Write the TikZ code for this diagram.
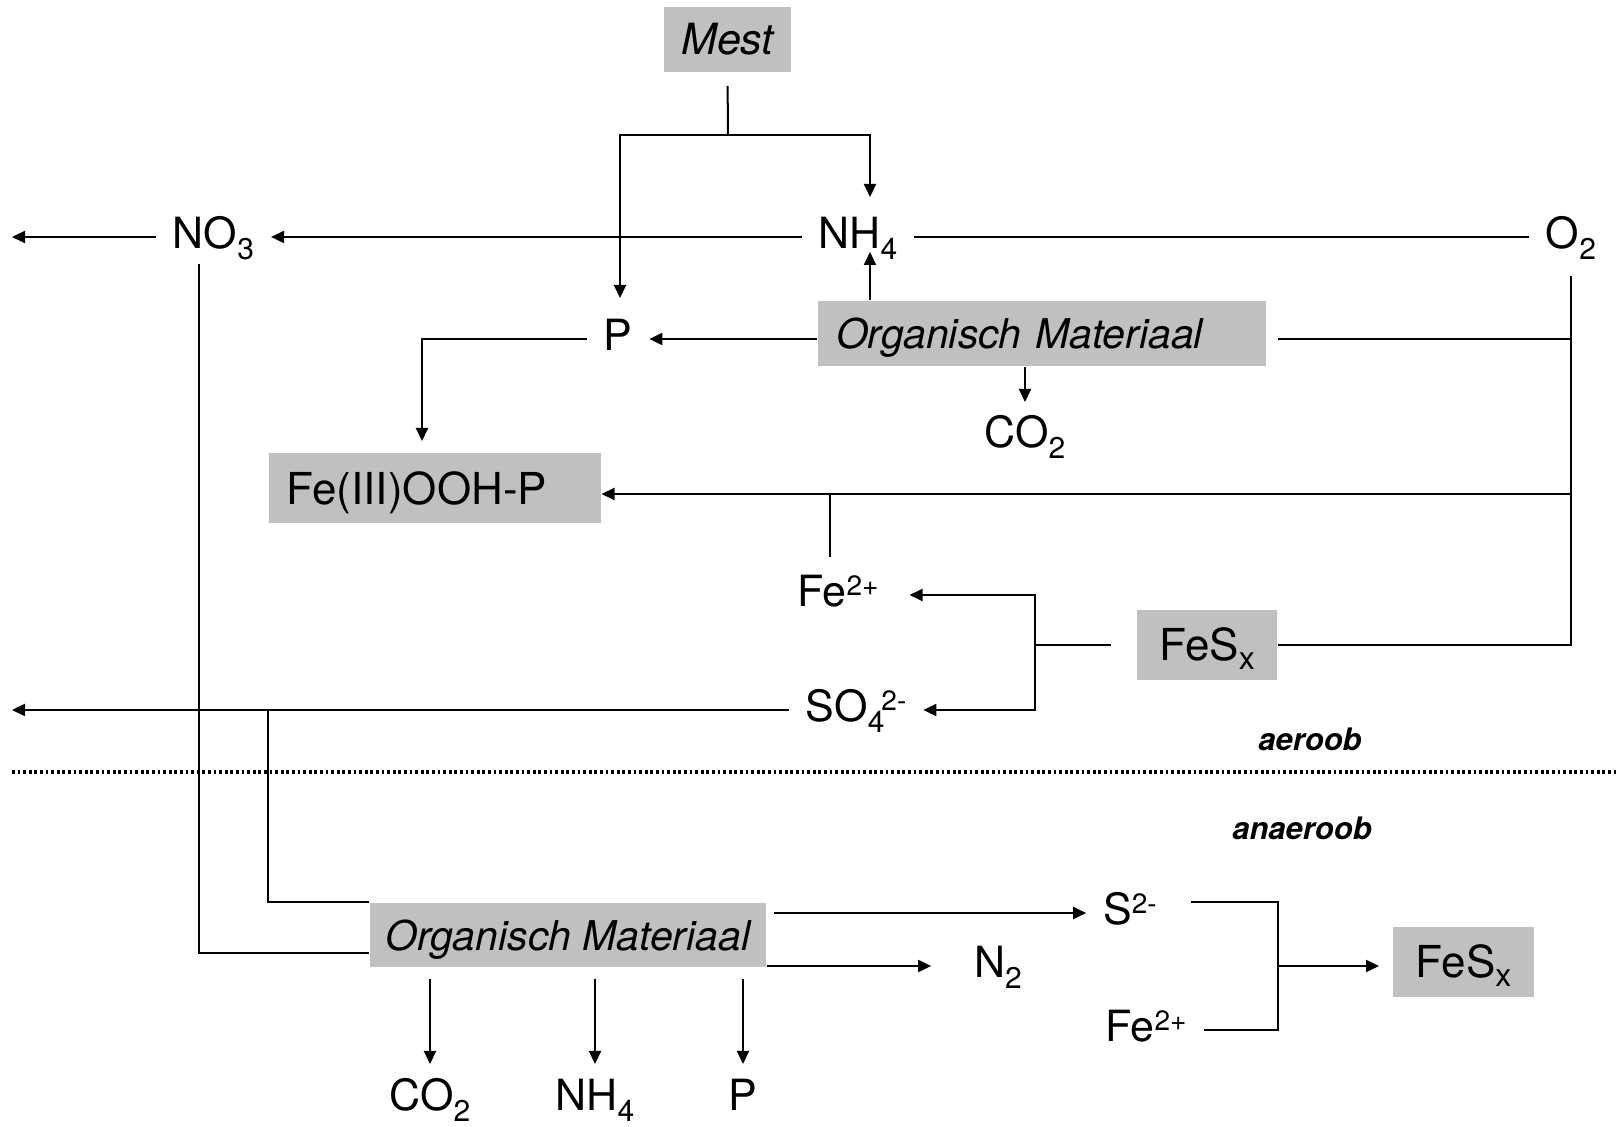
\documentclass[tikz,border=0pt]{standalone}
\usepackage{fontspec}
\setmainfont{TeX Gyre Heros}
\usetikzlibrary{arrows.meta,calc}
\definecolor{boxgray}{RGB}{192,192,192}
\newcommand{\sbs}[1]{\raisebox{-5.5pt}{\fontsize{15}{15}\selectfont #1}}
\newcommand{\sps}[1]{\raisebox{5.5pt}{\fontsize{14}{14}\selectfont #1}}
\newcommand{\xsb}[1]{\raisebox{-4.5pt}{\fontsize{16}{16}\selectfont #1}}
\tikzset{
  lbl/.style={inner xsep=8pt, inner ysep=0pt, text height=15.5pt, text depth=3.5pt, font=\fontsize{21.5}{24}\selectfont},
  gbox/.style={fill=boxgray, inner sep=0pt, text height=15.5pt, text depth=0pt, font=\fontsize{21.5}{24}\selectfont},
  arr/.style={-{Triangle[length=6.5pt,width=6pt]}},
  zone/.style={font=\fontsize{15.5}{18}\selectfont\bfseries\itshape}
}
\begin{document}
\begin{tikzpicture}[x=0.5pt, y=-0.5pt, line width=1pt]
            \useasboundingbox (0,0) rectangle (1619,1127);
            % boxes
            \node[gbox, minimum width=63.5pt, minimum height=32.5pt] (mest) at (727.5,39.5) {\itshape Mest};
            \node[gbox, minimum height=32.5pt, inner xsep=9pt, text width=206pt, align=left, font=\fontsize{20.5}{24}\selectfont] (om1) at (1042,333.5) {\itshape Organisch Materiaal};
            \node[gbox, minimum height=35pt, inner xsep=9pt, text width=148pt, align=left, text height=16pt, font=\fontsize{22}{26}\selectfont] (fe3) at (434.5,488.5) {Fe(III)OOH-P};
            \node[gbox, minimum width=70pt, minimum height=35pt, text height=16pt, font=\fontsize{22}{26}\selectfont] (fesa) at (1207,645) {FeS\xsb{x}};
            \node[gbox, minimum width=198pt, minimum height=32pt, font=\fontsize{20.5}{24}\selectfont] (om2) at (568,935) {\itshape Organisch Materiaal};
            \node[gbox, minimum width=70.5pt, minimum height=35pt, text height=16pt, font=\fontsize{22}{26}\selectfont] (fesb) at (1463.5,962) {FeS\xsb{x}};
            % labels
            \node[lbl] (no3) at (213.5,237) {NO\sbs{3}};
            \node[lbl] (nh4) at (858,237) {NH\sbs{4}};
            \node[lbl] (o2) at (1571,237) {O\sbs{2}};
            \node[lbl] (pa) at (618,339) {P};
            \node[lbl] (co2a) at (1025,436) {CO\sbs{2}};
            \node[lbl] (fea) at (838,595) {Fe\sps{2+}};
            \node[lbl] (so4) at (856,710) {SO\sbs{4}\kern-1.5pt\sps{2-}};
            \node[lbl] (s2) at (1130,913) {S\sps{2-}};
            \node[lbl] (n2) at (998,966) {N\sbs{2}};
            \node[lbl] (feb) at (1146,1030) {Fe\sps{2+}};
            \node[lbl] (co2b) at (430,1099) {CO\sbs{2}};
            \node[lbl] (nh4b) at (595,1099) {NH\sbs{4}};
            \node[lbl] (pb) at (743,1099) {P};
            \node[zone] (aer) at (1310,739) {aeroob};
            \node[zone] (anaer) at (1302,828) {anaeroob};
            % junctions and free ends
            \coordinate (msplit) at (728,135);
            \coordinate (noout) at (12,237);
            \coordinate (soout) at (12,710);
            \coordinate (sobranch) at (268,710);
            \coordinate (fesj) at (1035,645);
            \coordinate (fesjb) at (1278,966);
            \coordinate (nh4in) at ([xshift=6pt]nh4.south);
            \coordinate (feup) at ([xshift=-4pt]fea.north);
            % mest to P and NH4
            \draw[shorten <=6.5pt] (mest.south) -- (msplit);
            \draw[arr] (msplit) -| ([xshift=6pt,yshift=10pt]nh4.north);
            \draw[arr] (msplit) -| ([xshift=1pt,yshift=10.5pt]pa.north);
            % nitrification line
            \draw[arr] (nh4.west) -- (no3.east);
            \draw[arr] (no3.west) -- (noout);
            \draw (nh4.east) -- (o2.west);
            \draw ([xshift=-7.5pt,yshift=-3.5pt]no3.south) |- ([yshift=-9pt]om2.west);
            % upper organic matter
            \draw[arr] (nh4in |- om1.north) -- ([yshift=2.5pt]nh4in);
            \draw[arr] (om1.west |- pa) -- (pa.east);
            \draw[arr] (om1.south -| co2a) -- ([yshift=7pt]co2a.north);
            \draw[arr] (pa.west) -| ([xshift=-6.25pt,yshift=5.75pt]fe3.north);
            % oxygen on the right
            \draw[shorten <=9.5pt] (o2.south) |- (fesa.east);
            \draw[shorten >=5.5pt] (o2.south |- pa) -- (om1.east |- pa);
            \draw[arr] (o2.south |- 0,494) -- (fe3.east |- 0,494);
            \draw ([yshift=9pt]feup) -- (feup |- 0,494);
            % FeSx oxidation
            \draw[shorten <=12.5pt] (fesa.west) -- (fesj);
            \draw[arr] (fesj) |- ([xshift=7pt]fea.east);
            \draw[arr] (fesj) |- (so4.east);
            \draw[arr] (so4.west) -- (soout);
            \draw (sobranch) |- (om2.north west);
            % aeroob / anaeroob
            \draw[line width=1.6pt, dash pattern=on 1.4pt off 1.4pt] (12,772) -- (1619,772);
            % lower organic matter
            \draw[arr, shorten <=3.5pt] (om2.east |- s2) -- (s2.west);
            \draw[arr] (om2.east |- n2) -- ([xshift=-13pt]n2.west);
            \draw ([xshift=8.5pt,yshift=5.5pt]s2.east) -| (fesjb) |- (feb.east);
            \draw[arr, shorten >=6.5pt] (fesjb) -- (fesjb -| fesb.west);
            \draw[arr, shorten <=5.5pt] (om2.south -| co2b) -- ([yshift=7.5pt]co2b.north);
            \draw[arr, shorten <=5.5pt] (om2.south -| nh4b) -- ([yshift=7.5pt]nh4b.north);
            \draw[arr, shorten <=5.5pt] (om2.south -| pb) -- ([yshift=7.5pt]pb.north);
        \end{tikzpicture}
\end{document}
